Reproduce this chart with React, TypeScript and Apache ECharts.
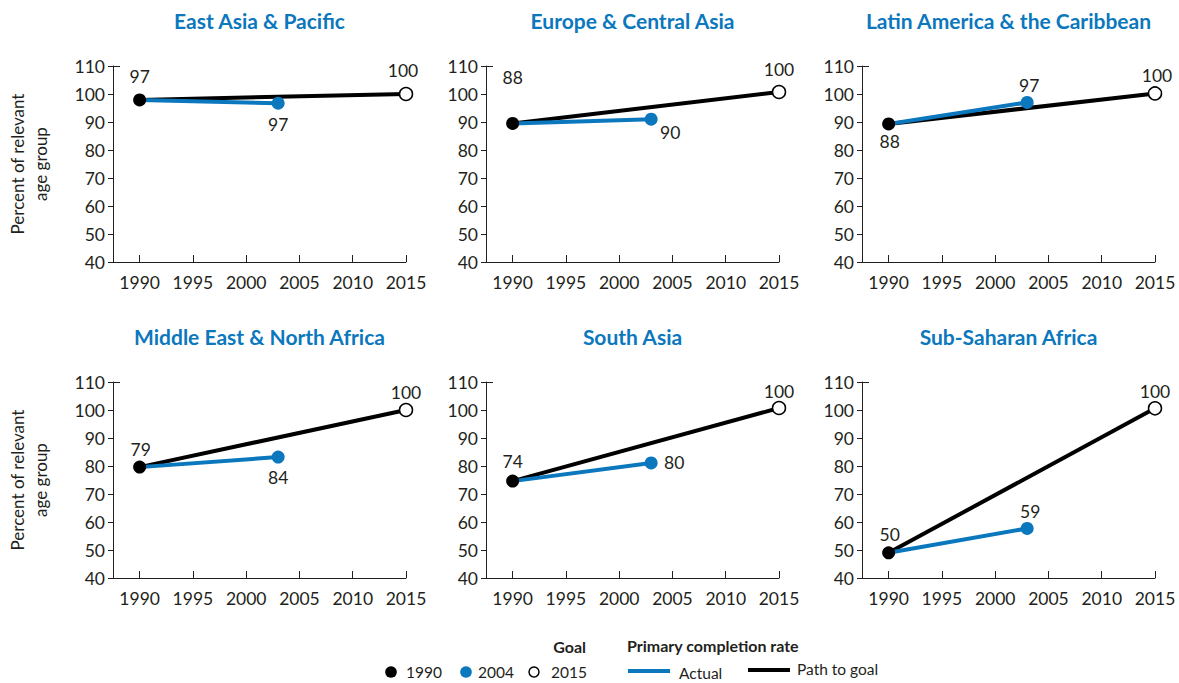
import React, { useEffect, useRef } from "react";
import * as echarts from "echarts";

const regions = [
  "East Asia & Pacific",
  "Europe & Central Asia",
  "Latin America & the Caribbean",
  "Middle East & North Africa",
  "South Asia",
  "Sub-Saharan Africa",
];
const pointYears = [1990, 2003, 2015];
const value1990 = [97.9, 89.5, 89.3, 79.6, 74.6, 49.0];
const value2003 = [96.7, 91.0, 97.0, 83.2, 81.1, 57.7];
const goal2015 = [100, 100.7, 100.2, 100, 100.7, 100.6];
const label1990 = ["97", "88", "88", "79", "74", "50"];
const label2003 = ["97", "90", "97", "84", "80", "59"];
const label2015 = ["100", "100", "100", "100", "100", "100"];
const xTicks = [1990, 1995, 2000, 2005, 2010, 2015];
const yTicks = [40, 50, 60, 70, 80, 90, 100, 110];
const legendYears = ["1990", "2004", "2015"];

// label offsets (style) per panel: [1990, 2003, 2015]
const labelOffsets: number[][][] = [
  [[0, -23], [0, 21], [-3, -24]],
  [[0, -46], [19, 13], [0, -23]],
  [[1, 18], [2, -17], [2, -18]],
  [[1, -18], [0, 20], [0, -18]],
  [[0, -20], [23, 0], [0, -17]],
  [[1, -18], [3, -17], [0, -17]],
];

const BLUE = "#0b77bd";
const TEXT = "#231f20";
const FONT = "Lato, 'Noto Sans', sans-serif";

export default function App() {
  const ref = useRef<HTMLDivElement>(null);
  useEffect(() => {
    if (!ref.current) return;
    const chart = echarts.init(ref.current, null, { renderer: "svg" });
    const lefts = [113, 486, 862];
    const tops = [66, 382];
    const gridW = 293;
    const gridH = 196;
    const grids: any[] = [];
    const xAxes: any[] = [];
    const yAxes: any[] = [];
    const series: any[] = [];
    const titles: any[] = [];
    regions.forEach((name, i) => {
      const col = i % 3;
      const row = Math.floor(i / 3);
      grids.push({ left: lefts[col], top: tops[row], width: gridW, height: gridH });
      titles.push({
        text: name,
        left: lefts[col] + gridW / 2,
        top: tops[row] - 56.5,
        padding: 0,
        textAlign: "center",
        textStyle: { color: BLUE, fontSize: 21, fontWeight: "bold", fontFamily: FONT },
      });
      xAxes.push({
        type: "value",
        gridIndex: i,
        min: 1987.5,
        max: 2015,
        splitLine: { show: false },
        axisLine: { show: true, lineStyle: { color: TEXT, width: 1 } },
        axisTick: { show: true, inside: true, length: 7, customValues: xTicks, lineStyle: { color: TEXT } },
        axisLabel: {
          customValues: xTicks,
          formatter: (v: number) => String(v),
          color: TEXT,
          fontSize: 17.5,
          fontFamily: FONT,
          margin: 11,
        },
      });
      yAxes.push({
        type: "value",
        gridIndex: i,
        min: 40,
        max: 110,
        interval: 10,
        splitLine: { show: false },
        axisLine: { show: true, lineStyle: { color: TEXT, width: 1 } },
        axisTick: { show: true, inside: false, length: 5, lineStyle: { color: TEXT } },
        axisLabel: { color: TEXT, fontSize: 17.5, fontFamily: FONT, margin: 8, customValues: yTicks },
        name: col === 0 ? "Percent of relevant\nage group" : "",
        nameLocation: "middle",
        nameGap: 61,
        nameTextStyle: { color: TEXT, fontSize: 17, fontFamily: FONT, lineHeight: 23 },
      });
      // cap tick at the top of the y axis
      yAxes.push({
        type: "value",
        gridIndex: i,
        position: "left",
        min: 40,
        max: 110,
        splitLine: { show: false },
        axisLine: { show: false },
        axisTick: { show: true, inside: true, length: 7, customValues: [110], lineStyle: { color: TEXT } },
        axisLabel: { show: false },
      });
      const yMain = yAxes.length - 2;
      series.push({
        type: "line",
        xAxisIndex: i,
        yAxisIndex: yMain,
        data: [[pointYears[0], value1990[i]], [pointYears[2], goal2015[i]]],
        symbol: "none",
        lineStyle: { color: "#000", width: 4 },
        z: 2,
      });
      series.push({
        type: "line",
        xAxisIndex: i,
        yAxisIndex: yMain,
        data: [[pointYears[0], value1990[i]], [pointYears[1], value2003[i]]],
        symbol: "none",
        lineStyle: { color: BLUE, width: 4 },
        z: 3,
      });
      const vals = [value1990[i], value2003[i], goal2015[i]];
      const labs = [label1990[i], label2003[i], label2015[i]];
      const fills = ["#000", BLUE, "#fff"];
      series.push({
        type: "scatter",
        xAxisIndex: i,
        yAxisIndex: yMain,
        symbolSize: 13,
        z: 4,
        itemStyle: { opacity: 1 },
        data: vals.map((v, k) => ({
          value: [pointYears[k], v],
          itemStyle: {
            opacity: 1,
            color: fills[k],
            borderColor: k === 2 ? "#000" : fills[k],
            borderWidth: k === 2 ? 1.5 : 0,
          },
          label: {
            show: true,
            position: "inside",
            offset: labelOffsets[i][k],
            formatter: labs[k],
            color: TEXT,
            textBorderWidth: 0,
            fontSize: 17.5,
            fontFamily: FONT,
          },
        })),
      });
    });

    const lt = (text: string, x: number, y: number, extra: any = {}) => ({
      type: "text",
      x,
      y,
      style: { text, fill: TEXT, fontSize: 15.5, fontFamily: FONT, align: "left", verticalAlign: "middle", ...extra },
    });
    const graphic: any[] = [
      lt("Goal", 586, 646, { fontWeight: "bold", align: "right", fontSize: 16 }),
      lt("Primary completion rate", 627, 645, { fontWeight: "bold", fontSize: 16 }),
      { type: "circle", shape: { cx: 391, cy: 672, r: 5.8 }, style: { fill: "#000" } },
      lt(legendYears[0], 406, 672),
      { type: "circle", shape: { cx: 466, cy: 672, r: 5.8 }, style: { fill: BLUE } },
      lt(legendYears[1], 478, 672),
      { type: "circle", shape: { cx: 534, cy: 672, r: 5 }, style: { fill: "#fff", stroke: "#000", lineWidth: 1.5 } },
      lt(legendYears[2], 551, 672),
      { type: "line", shape: { x1: 628, y1: 671, x2: 670, y2: 671 }, style: { stroke: BLUE, lineWidth: 4 } },
      lt("Actual", 679, 673),
      { type: "line", shape: { x1: 748, y1: 670, x2: 790, y2: 670 }, style: { stroke: "#000", lineWidth: 4 } },
      lt("Path to goal", 797, 669),
    ];

    chart.setOption({
      animation: false,
      backgroundColor: "#fff",
      title: titles,
      grid: grids,
      xAxis: xAxes,
      yAxis: yAxes,
      series,
      graphic,
    });
    return () => chart.dispose();
  }, []);
  return (
    <div
      ref={ref}
      style={{ position: "absolute", left: 0, top: 0, width: 1179, height: 683 }}
    />
  );
}
